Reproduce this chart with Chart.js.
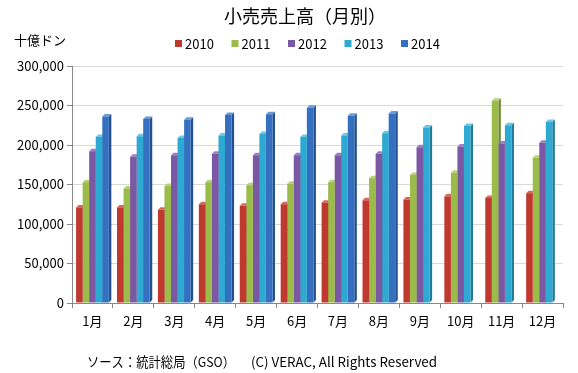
<!DOCTYPE html>
<html>
<head>
<meta charset="utf-8">
<script src="https://cdn.jsdelivr.net/npm/chart.js@4/dist/chart.umd.min.js"></script>
<style>
    html, body { margin: 0; padding: 0; background: #ffffff; }
    #wrap { width: 578px; height: 373px; position: relative; }
</style>
</head>
<body>
<div id="wrap"><canvas id="chartUriage" width="578" height="373"></canvas></div>
<script>
// Data (十億ドン)
const months = ['1月', '2月', '3月', '4月', '5月', '6月', '7月', '8月', '9月', '10月', '11月', '12月'];
const years = ['2010', '2011', '2012', '2013', '2014'];
const sales2010 = [121000, 121000, 118000, 125000, 123000, 125000, 127000, 130000, 131000, 135000, 133000, 139000];
const sales2011 = [153000, 145000, 148000, 153000, 149000, 151000, 153000, 158000, 162000, 165000, 256000, 184000];
const sales2012 = [192000, 185000, 187000, 189000, 187000, 187000, 187000, 189000, 197000, 198000, 202000, 203000];
const sales2013 = [210000, 211000, 209000, 212000, 214000, 210000, 212000, 215000, 222000, 224000, 225000, 229000];
const sales2014 = [236000, 233000, 232000, 238000, 239000, 247000, 237000, 240000, null, null, null, null];
const yTicks = [0, 50000, 100000, 150000, 200000, 250000, 300000];

const colors = ['#c0392e', '#9bbb4a', '#7b58a4', '#2ea9d2', '#3570c0'];
const sideColors = ['#8a2a20', '#6f8a33', '#553c78', '#1f7a98', '#234f8c'];
const topColors = ['#d8675c', '#b8d277', '#9c80c0', '#6cc6e4', '#6a98d6'];

const fontJp = '"Noto Sans CJK JP", "Noto Sans", sans-serif';

// 3D side and top faces, drawn behind the front faces
const bar3d = {
    id: 'bar3d',
    beforeDatasetsDraw(chart) {
        const ctx = chart.ctx;
        const d = 2.5;
        ctx.save();
        chart.data.datasets.forEach((ds, i) => {
            const meta = chart.getDatasetMeta(i);
            meta.data.forEach((bar, j) => {
                if (ds.data[j] == null) return;
                const p = bar.getProps(['x', 'y', 'base', 'width'], true);
                const l = p.x - p.width / 2;
                const r = p.x + p.width / 2;
                ctx.fillStyle = sideColors[i];
                ctx.beginPath();
                ctx.moveTo(r, p.y);
                ctx.lineTo(r + d, p.y - d);
                ctx.lineTo(r + d, p.base - d);
                ctx.lineTo(r, p.base);
                ctx.closePath();
                ctx.fill();
                ctx.fillStyle = topColors[i];
                ctx.beginPath();
                ctx.moveTo(l, p.y);
                ctx.lineTo(l + d, p.y - d);
                ctx.lineTo(r + d, p.y - d);
                ctx.lineTo(r, p.y);
                ctx.closePath();
                ctx.fill();
            });
        });
        ctx.restore();
    }
};

// Title, unit, legend and source text
const extraText = {
    id: 'extraText',
    afterDraw(chart) {
        const ctx = chart.ctx;
        ctx.save();
        ctx.fillStyle = '#000000';
        ctx.textBaseline = 'middle';

        ctx.font = '18px ' + fontJp;
        ctx.textAlign = 'center';
        ctx.fillText('小売売上高（月別）', 305, 16);

        ctx.font = '13px ' + fontJp;
        ctx.textAlign = 'left';
        ctx.fillText('十億ドン', 14, 40);

        // legend
        ctx.font = '13px ' + fontJp;
        chart.data.datasets.forEach((ds, i) => {
            const x = 175 + i * 56.5;
            ctx.fillStyle = colors[i];
            ctx.fillRect(x, 40, 7, 7);
            ctx.fillStyle = '#000000';
            ctx.fillText(ds.label, x + 10, 44);
        });

        ctx.font = '13.5px ' + fontJp;
        ctx.fillText('ソース：統計総局（GSO）', 87, 362, 148);
        ctx.fillText('(C) VERAC, All Rights Reserved', 251, 362, 186);
        ctx.restore();
    }
};

const seriesValues = [sales2010, sales2011, sales2012, sales2013, sales2014];

new Chart(document.getElementById('chartUriage'), {
    type: 'bar',
    data: {
        labels: months,
        datasets: years.map((y, i) => ({
            label: y,
            data: seriesValues[i],
            backgroundColor: colors[i],
            borderWidth: 0,
            categoryPercentage: 0.8,
            barPercentage: 1.0
        }))
    },
    options: {
        responsive: false,
        animation: false,
        layout: {
            padding: { top: 66, right: 15, bottom: 0, left: 0 }
        },
        plugins: {
            legend: { display: false },
            title: { display: false },
            tooltip: { enabled: false }
        },
        scales: {
            x: {
                grid: {
                    display: true,
                    drawOnChartArea: false,
                    drawTicks: true,
                    tickLength: 5,
                    color: '#888888'
                },
                border: { color: '#888888' },
                ticks: {
                    color: '#000000',
                    padding: 5,
                    maxRotation: 0,
                    font: { size: 13, family: fontJp }
                },
                afterFit: function(scale) { scale.height = 70; }
            },
            y: {
                min: 0,
                max: 300000,
                afterBuildTicks: function(scale) {
                    scale.ticks = yTicks.map(v => ({ value: v }));
                },
                grid: {
                    color: '#d9d9d9',
                    tickColor: '#888888',
                    tickLength: 5,
                    drawTicks: true
                },
                border: { color: '#888888' },
                ticks: {
                    color: '#000000',
                    padding: 3,
                    font: { size: 13, family: fontJp },
                    callback: function(value) {
                        return value.toLocaleString('en-US');
                    }
                },
                afterFit: function(scale) { scale.width = 72; }
            }
        }
    },
    plugins: [bar3d, extraText]
});
</script>
</body>
</html>
